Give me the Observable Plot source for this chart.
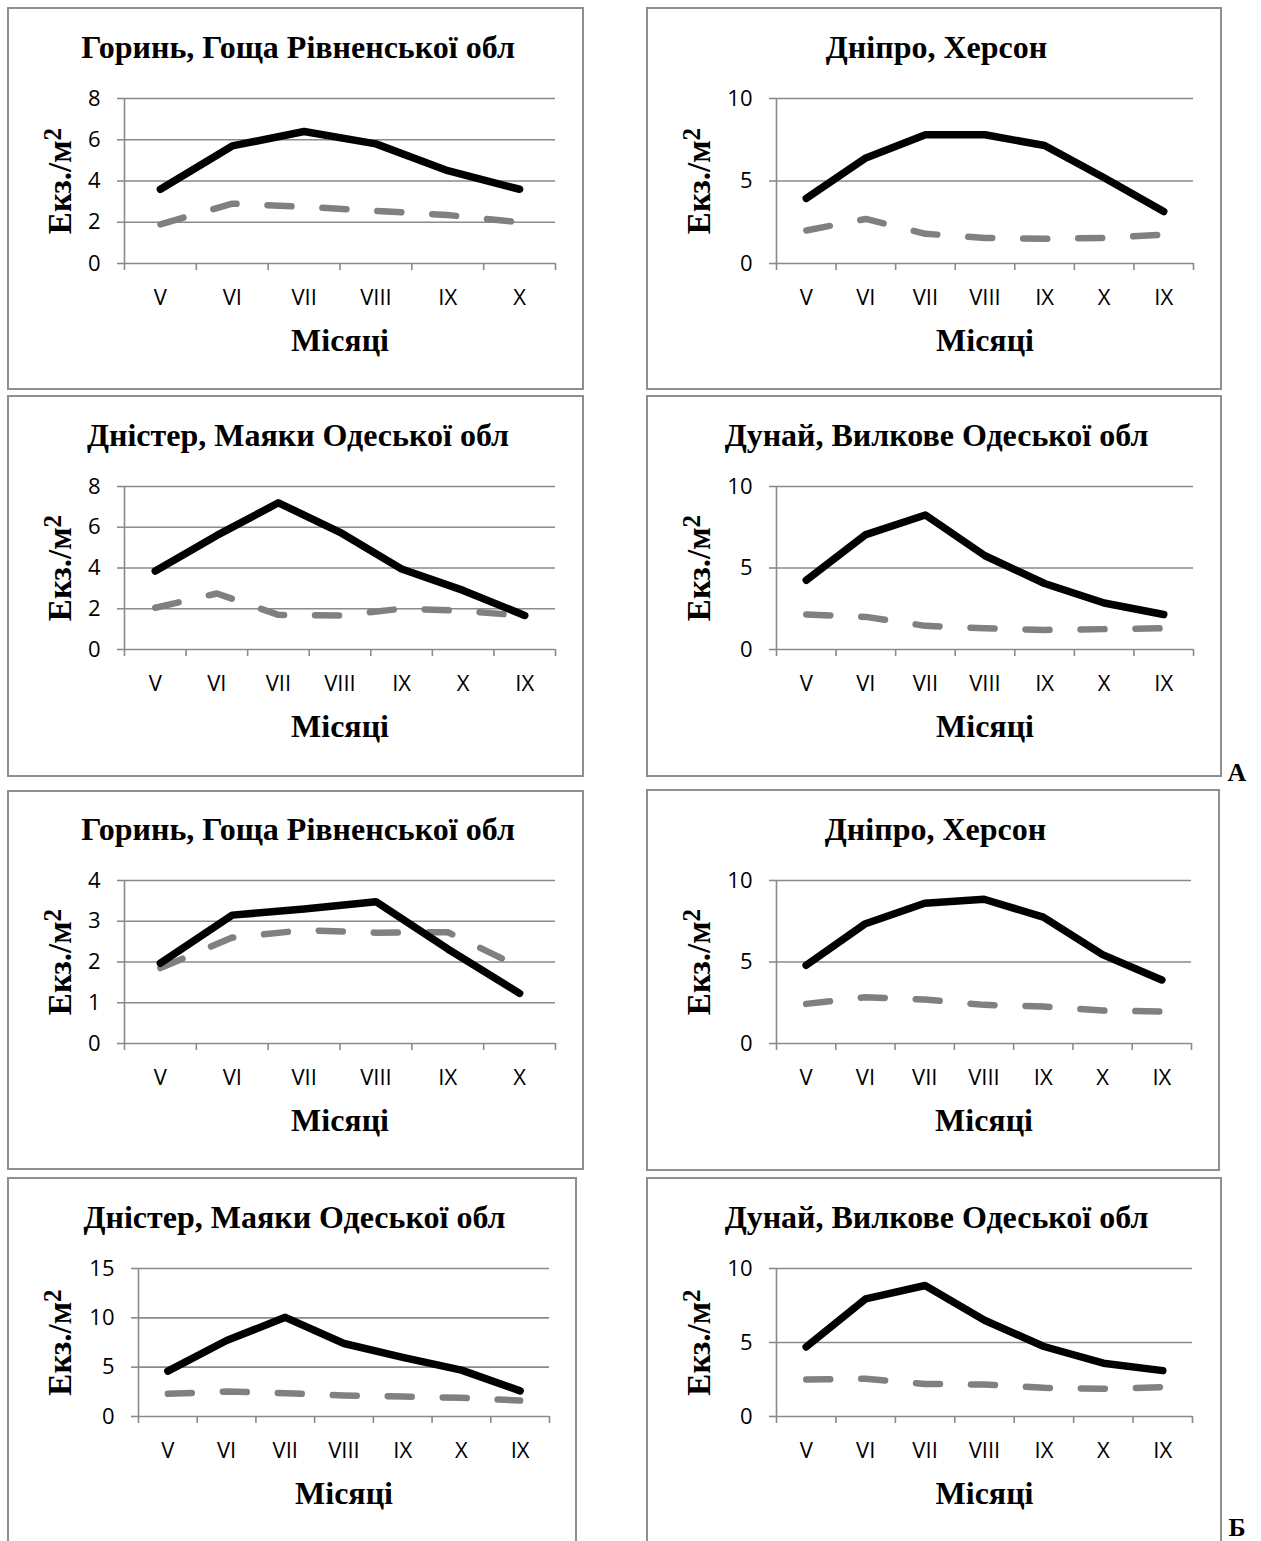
<!DOCTYPE html>
<html>
<head>
<meta charset="utf-8">
<script src="https://cdn.jsdelivr.net/npm/d3@7"></script>
<script src="https://cdn.jsdelivr.net/npm/@observablehq/plot@0.6"></script>
<style>
  html, body { margin: 0; padding: 0; background: #fff; }
  body { width: 1261px; height: 1541px; overflow: hidden; position: relative; }
  .panel { position: absolute; }
  .panel svg { display: block; overflow: visible; }
  .border { position: absolute; border: 2px solid #8f8f8f; box-sizing: border-box; pointer-events: none; }
  .group-mark { position: absolute; width: 40px; text-align: center; font-family: "Liberation Serif", serif;
                font-weight: bold; font-size: 26px; line-height: 26px; color: #000; }
</style>
</head>
<body>
<script>
// Month labels on the x axis
const monthsSix = ["V", "VI", "VII", "VIII", "IX", "X"];
const monthsSeven = ["V", "VI", "VII", "VIII", "IX", "X", "IX"];

// Titles
const titleHoryn = "Горинь, Гоща Рівненської обл";
const titleDnipro = "Дніпро, Херсон";
const titleDnister = "Дністер, Маяки Одеської обл";
const titleDunai = "Дунай, Вилкове Одеської обл";
const xTitle = "Місяці";
const yTitle = "Екз./м²";

// y-axis tick values
const yTicks4 = [0, 1, 2, 3, 4];
const yTicks8 = [0, 2, 4, 6, 8];
const yTicks10 = [0, 5, 10];
const yTicks15 = [0, 5, 10, 15];

// Group А: density, individuals per m² (solid and dashed series)
const horynA_solid = [3.6, 5.7, 6.4, 5.8, 4.5, 3.6];
const horynA_dashed = [1.9, 2.9, 2.75, 2.55, 2.35, 2.0];
const dniproA_solid = [3.95, 6.4, 7.8, 7.8, 7.15, 5.2, 3.15];
const dniproA_dashed = [2.0, 2.7, 1.8, 1.55, 1.5, 1.55, 1.75];
const dnisterA_solid = [3.85, 5.6, 7.2, 5.75, 3.95, 2.9, 1.67];
const dnisterA_dashed = [2.05, 2.75, 1.7, 1.67, 2.0, 1.9, 1.65];
const dunaiA_solid = [4.25, 7.05, 8.25, 5.75, 4.05, 2.85, 2.15];
const dunaiA_dashed = [2.15, 2.0, 1.45, 1.3, 1.2, 1.25, 1.3];

// Group Б
const horynB_solid = [1.97, 3.15, 3.3, 3.48, 2.32, 1.23];
const horynB_dashed = [1.85, 2.6, 2.78, 2.72, 2.73, 1.88];
const dniproB_solid = [4.8, 7.35, 8.6, 8.85, 7.75, 5.45, 3.9];
const dniproB_dashed = [2.43, 2.84, 2.7, 2.37, 2.27, 2.02, 1.96];
const dnisterB_solid = [4.6, 7.7, 10.05, 7.4, 6.0, 4.7, 2.6];
const dnisterB_dashed = [2.3, 2.53, 2.36, 2.13, 2.03, 1.89, 1.62];
const dunaiB_solid = [4.7, 7.95, 8.85, 6.5, 4.73, 3.6, 3.1];
const dunaiB_dashed = [2.5, 2.55, 2.2, 2.16, 1.94, 1.87, 1.98];

// Panel layout: box = [left, top, width, height], plot = [x0, y0, x1, y1] in page pixels
const panels = [
  {title: titleHoryn,   months: monthsSix,   solid: horynA_solid,   dashed: horynA_dashed,   yTicks: yTicks8,  box: [7, 7, 577, 383],     plot: [124, 98, 555, 263]},
  {title: titleDnipro,  months: monthsSeven, solid: dniproA_solid,  dashed: dniproA_dashed,  yTicks: yTicks10, box: [646, 7, 576, 383],   plot: [776, 98, 1193, 263]},
  {title: titleDnister, months: monthsSeven, solid: dnisterA_solid, dashed: dnisterA_dashed, yTicks: yTicks8,  box: [7, 395, 577, 382],   plot: [124, 486, 555, 649]},
  {title: titleDunai,   months: monthsSeven, solid: dunaiA_solid,   dashed: dunaiA_dashed,   yTicks: yTicks10, box: [646, 395, 576, 382], plot: [776, 486, 1193, 649]},
  {title: titleHoryn,   months: monthsSix,   solid: horynB_solid,   dashed: horynB_dashed,   yTicks: yTicks4,  box: [7, 790, 577, 380],   plot: [124, 880, 555, 1043]},
  {title: titleDnipro,  months: monthsSeven, solid: dniproB_solid,  dashed: dniproB_dashed,  yTicks: yTicks10, box: [646, 789, 574, 382], plot: [776, 880, 1191, 1043]},
  {title: titleDnister, months: monthsSeven, solid: dnisterB_solid, dashed: dnisterB_dashed, yTicks: yTicks15, box: [7, 1177, 570, 390],  plot: [138, 1268, 549, 1416]},
  {title: titleDunai,   months: monthsSeven, solid: dunaiB_solid,   dashed: dunaiB_dashed,   yTicks: yTicks10, box: [646, 1177, 576, 390], plot: [776, 1268, 1192, 1416]}
];

const gridColor = "#8a8a8a";
const serif = "'Liberation Serif', 'Times New Roman', serif";

function drawPanel(p) {
  const [bl, bt, bw, bh] = p.box;
  const [px0, py0, px1, py1] = p.plot;
  const mL = px0 - bl, mT = py0 - bt, mR = bl + bw - px1, mB = bt + bh - py1;
  const n = p.months.length;
  const yMax = p.yTicks[p.yTicks.length - 1];
  const rows = p.months.map((m, i) => ({pos: i + 0.5, solid: p.solid[i], dashed: p.dashed[i]}));
  const frameCenter = mL + (bw - mL - mR) / 2;

  const chart = Plot.plot({
    width: bw,
    height: bh,
    marginLeft: mL,
    marginRight: mR,
    marginTop: mT,
    marginBottom: mB,
    x: {domain: [0, n], axis: null},
    y: {domain: [0, yMax], axis: null},
    style: {fontFamily: "'Open Sans', sans-serif", fontSize: "22px", background: "transparent", color: "black", overflow: "visible"},
    marks: [
      Plot.gridY(p.yTicks, {stroke: gridColor, strokeOpacity: 1, strokeWidth: 1.6}),
      Plot.ruleX([0], {y1: 0, y2: yMax, stroke: gridColor, strokeWidth: 1.6}),
      Plot.axisY({ticks: p.yTicks, tickFormat: d => String(d), tickSize: 7, tickPadding: 17,
                  stroke: gridColor, strokeWidth: 1.6, fill: "black", label: null, fontSize: 22}),
      Plot.axisX({ticks: d3.range(n + 1), tickSize: 7, tickFormat: () => "", stroke: gridColor,
                  strokeWidth: 1.6, label: null}),
      Plot.axisX({ticks: d3.range(n).map(i => i + 0.5), tickSize: 0, tickPadding: 26,
                  tickFormat: d => p.months[Math.floor(d)], fill: "black", label: null, fontSize: 22}),
      Plot.line(rows, {x: "pos", y: "dashed", stroke: "#808080", strokeWidth: 6.5,
                       strokeDasharray: "24,31", strokeLinecap: "round", strokeLinejoin: "round"}),
      Plot.line(rows, {x: "pos", y: "solid", stroke: "#000", strokeWidth: 7.5,
                       strokeLinecap: "round", strokeLinejoin: "round"}),
      Plot.text([p.title], {text: d => d, frameAnchor: "top", dx: bw / 2 + 2 - frameCenter, dy: -41,
                            lineAnchor: "bottom", fontFamily: serif, fontWeight: "bold", fontSize: 32, fill: "black"}),
      Plot.text([xTitle], {text: d => d, frameAnchor: "bottom", dy: 87, lineAnchor: "bottom",
                           fontFamily: serif, fontWeight: "bold", fontSize: 32, fill: "black"}),
      Plot.text([yTitle], {text: d => d, frameAnchor: "left", dx: 53 - mL, rotate: -90,
                           textAnchor: "middle", lineAnchor: "middle",
                           fontFamily: serif, fontWeight: "bold", fontSize: 33, fill: "black"})
    ]
  });

  // Superscript the "2" of the unit label
  chart.querySelectorAll("text").forEach(t => {
    if (t.textContent === yTitle) {
      t.textContent = "Екз./м";
      const sup = document.createElementNS("http://www.w3.org/2000/svg", "tspan");
      sup.setAttribute("dy", "-0.42em");
      sup.setAttribute("font-size", "25");
      sup.textContent = "2";
      t.appendChild(sup);
    }
  });

  const holder = document.createElement("div");
  holder.className = "panel";
  holder.style.left = bl + "px";
  holder.style.top = bt + "px";
  holder.appendChild(chart);
  document.body.appendChild(holder);

  const border = document.createElement("div");
  border.className = "border";
  border.style.left = bl + "px";
  border.style.top = bt + "px";
  border.style.width = bw + "px";
  border.style.height = bh + "px";
  document.body.appendChild(border);
}

panels.forEach(drawPanel);

// Group letters
[["А", 1217, 760], ["Б", 1217, 1515]].forEach(([txt, left, top]) => {
  const d = document.createElement("div");
  d.className = "group-mark";
  d.style.left = left + "px";
  d.style.top = top + "px";
  d.textContent = txt;
  document.body.appendChild(d);
});
</script>
</body>
</html>
